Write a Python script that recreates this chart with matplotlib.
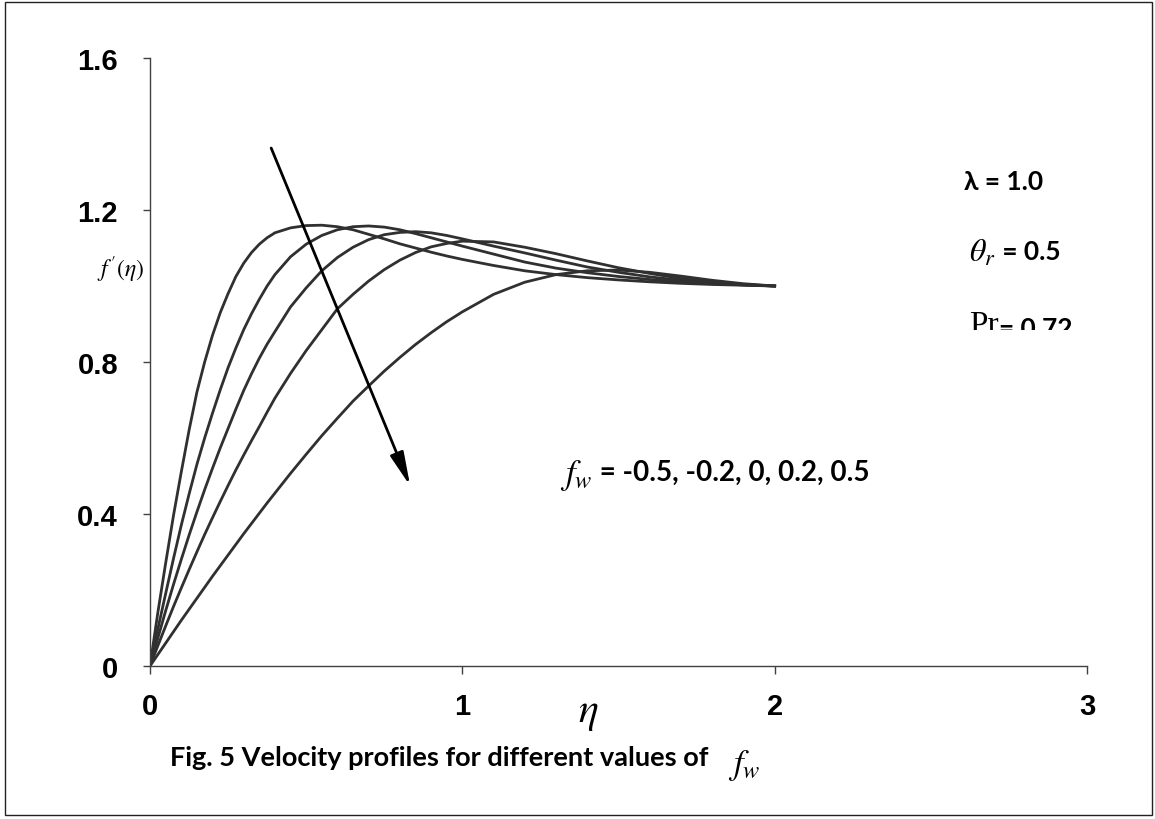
import matplotlib
matplotlib.use("Agg")
import matplotlib.pyplot as plt
from matplotlib.patches import Rectangle
from matplotlib.transforms import Bbox

plt.rcParams['mathtext.fontset'] = 'stix'

# ---- data ----
eta = [0.0, 0.025, 0.05, 0.075, 0.1, 0.125, 0.15, 0.175, 0.2, 0.225, 0.25, 0.275, 0.3, 0.325,
       0.35, 0.375, 0.4, 0.45, 0.5, 0.55, 0.6, 0.65, 0.7, 0.75, 0.8, 0.85, 0.9, 0.95, 1.0,
       1.1, 1.2, 1.3, 1.4, 1.5, 1.6, 1.7, 1.8, 1.9, 2.0]

fw_labels = ["-0.5", "-0.2", "0", "0.2", "0.5"]

fp_fw_m05 = [0.0, 0.14, 0.27, 0.395, 0.51, 0.62, 0.72, 0.80, 0.87, 0.93, 0.98, 1.025, 1.06,
             1.088, 1.11, 1.127, 1.14, 1.153, 1.159, 1.16, 1.156, 1.148, 1.136, 1.124, 1.111,
             1.10, 1.089, 1.079, 1.07, 1.054, 1.040, 1.03, 1.022, 1.016, 1.011, 1.007, 1.004,
             1.002, 1.0]
fp_fw_m02 = [0.0, 0.097, 0.19, 0.282, 0.37, 0.452, 0.53, 0.60, 0.665, 0.727, 0.785, 0.837,
             0.885, 0.927, 0.965, 1.0, 1.03, 1.077, 1.11, 1.133, 1.148, 1.156, 1.158, 1.155,
             1.148, 1.138, 1.127, 1.116, 1.105, 1.084, 1.063, 1.047, 1.035, 1.025, 1.017,
             1.011, 1.006, 1.003, 1.0]
fp_fw_0 = [0.0, 0.073, 0.145, 0.214, 0.28, 0.344, 0.405, 0.464, 0.52, 0.574, 0.625, 0.676,
           0.725, 0.769, 0.81, 0.847, 0.88, 0.945, 0.995, 1.04, 1.075, 1.102, 1.122, 1.135,
           1.141, 1.143, 1.14, 1.133, 1.124, 1.105, 1.087, 1.068, 1.05, 1.036, 1.024, 1.015,
           1.008, 1.003, 1.0]
fp_fw_02 = [0.0, 0.053, 0.105, 0.156, 0.205, 0.253, 0.30, 0.346, 0.39, 0.433, 0.475, 0.516,
            0.555, 0.593, 0.63, 0.668, 0.705, 0.77, 0.83, 0.885, 0.94, 0.978, 1.013, 1.043,
            1.068, 1.088, 1.103, 1.112, 1.118, 1.116, 1.102, 1.085, 1.066, 1.048, 1.033, 1.02,
            1.01, 1.004, 1.0]
fp_fw_05 = [0.0, 0.03, 0.06, 0.09, 0.12, 0.149, 0.178, 0.207, 0.236, 0.264, 0.292, 0.32,
            0.348, 0.375, 0.402, 0.429, 0.455, 0.507, 0.557, 0.606, 0.652, 0.697, 0.737,
            0.776, 0.812, 0.846, 0.877, 0.906, 0.932, 0.978, 1.01, 1.03, 1.04, 1.042, 1.036,
            1.026, 1.015, 1.006, 1.0]

series = [fp_fw_m05, fp_fw_m02, fp_fw_0, fp_fw_02, fp_fw_05]

x_ticks = [0, 1, 2, 3]
y_ticks = [0, 0.4, 0.8, 1.2, 1.6]
y_tick_labels = ["0", "0.4", "0.8", "1.2", "1.6"]

# ---- figure ----
W, H = 1155, 820
fig = plt.figure(figsize=(W / 100, H / 100), dpi=100)
fig.patches.append(Rectangle((5 / W, 4 / H), 1147 / W, 813 / H, transform=fig.transFigure,
                             fill=False, edgecolor='#222222', linewidth=1.0))

ax = fig.add_axes([150 / W, 1 - 667 / H, 937 / W, 608 / H])
for s in series:
    ax.plot(eta, s, color='#303030', linewidth=2.0, solid_joinstyle='round')

ax.set_xlim(0, 3)
ax.set_ylim(0, 1.6)
for sp in ['top', 'right']:
    ax.spines[sp].set_visible(False)
for sp in ['left', 'bottom']:
    ax.spines[sp].set_color('#404040')
    ax.spines[sp].set_linewidth(1.0)

tick_font = dict(family='Liberation Sans', weight='bold', size=21)
ax.set_xticks(x_ticks)
ax.set_xticklabels([str(t) for t in x_ticks], fontdict=tick_font)
ax.set_yticks(y_ticks)
ax.set_yticklabels(y_tick_labels, fontdict=tick_font)
ax.tick_params(axis='x', direction='out', length=6, width=1, color='#404040', pad=13)
ax.tick_params(axis='y', direction='out', length=5, width=1, color='#404040', pad=18)

# arrow
ax.annotate('', xy=(0.833, 0.474), xytext=(0.388, 1.363),
            arrowprops=dict(arrowstyle='-|>,head_length=1.35,head_width=0.28', lw=2.0,
                            color='black', shrinkA=0, shrinkB=0, mutation_scale=15))

bold = dict(family=['Lato', 'DejaVu Sans'], weight='bold', size=19, color='black')

# lambda
ax.text(2.606, 1.275, "λ = 1.0", va='center', ha='left', **bold)

# theta_r
t1 = ax.text(2.622, 1.089, r"$\theta_r$", va='center', ha='left', fontsize=23)
ax.annotate(" = 0.5", xy=(1.0, 0.55), xycoords=t1, va='center', ha='left', **bold)

# Pr (clipped at the bottom)
clip = Bbox.from_extents(0, H - 331, W, H)
t2 = ax.text(2.622, 0.876, "Pr", va='baseline', ha='left', family='Liberation Serif',
             fontsize=24, clip_on=True)
t2.set_clip_box(clip)
t3 = ax.annotate("= 0.72", xy=(1.0, 0.0), xycoords=t2, va='bottom', ha='left',
                 annotation_clip=False, **bold)
t3.set_clip_on(True)
t3.set_clip_box(clip)

# f_w
t4 = ax.text(1.314, 0.505, r"$f_w$", va='center', ha='left', fontsize=25)
ax.annotate(" = " + ", ".join(fw_labels), xy=(1.0, 0.55), xycoords=t4, va='center',
            ha='left', family=['Lato', 'DejaVu Sans'], weight='bold', size=20, color='black')

# axis labels
fig.text(588 / W, 1 - 712 / H, r"$\eta$", ha='center', va='center', fontsize=30)
fig.text(120 / W, 1 - 270 / H, r"$f\,'(\eta)$", ha='center', va='center', fontsize=17)

# caption
c = fig.text(170 / W, 1 - 758 / H, "Fig. 5 Velocity profiles for different values of   ",
             ha='left', va='center', family=['Lato', 'DejaVu Sans'], weight='bold', size=19.5)
fig.text(0, 0, "")
plt.annotate(r"$f_w$", xy=(1.0, 0.2), xycoords=c, va='center', ha='left', fontsize=25,
             annotation_clip=False)

fig.savefig("out.png", dpi=100)
